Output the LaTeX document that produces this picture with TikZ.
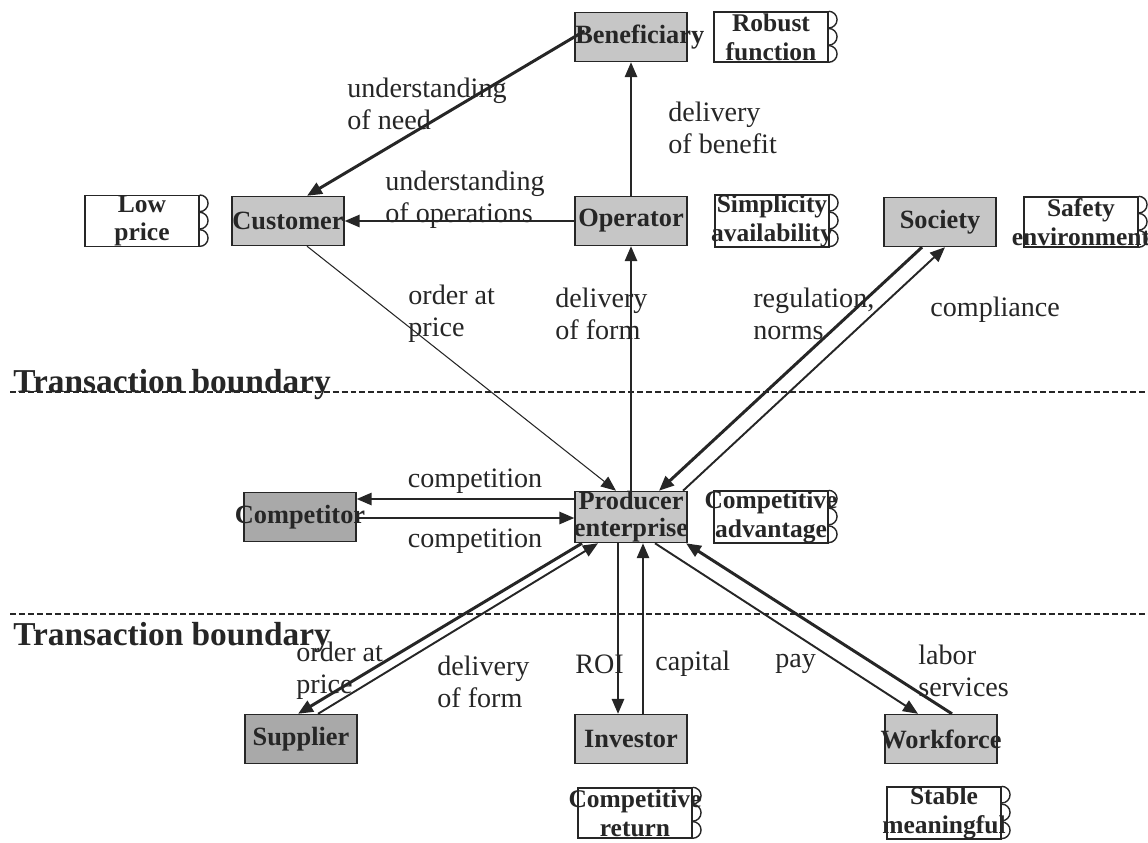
\documentclass[tikz,border=0pt]{standalone}
\usepackage{fontspec}
\setmainfont{Liberation Serif}
\usetikzlibrary{arrows.meta,calc}
\definecolor{ink}{HTML}{262626}
\definecolor{boxlight}{HTML}{C6C6C6}
\definecolor{boxdark}{HTML}{A9A9A9}
% a centred line of box text that may run past the box edges
\newcommand\boxline[1]{\makebox[0pt]{#1}}
% three half-round bumps on the right edge of a value box
\newcommand\valuebumps[1]{%
  \foreach \k in {0,1,2}{%
    \draw[draw=ink,line width=0.8pt] ($(#1.north east)!{\k/3}!(#1.south east)$)
      arc[start angle=90,end angle=-90,radius=0.167cm];}}
\begin{document}
\begin{tikzpicture}[x=0.02cm,y=-0.02cm,
  actor/.style={draw=ink,line width=0.8pt,fill=boxlight,minimum width=2.24cm,
    minimum height=0.98cm,inner sep=0pt,text=ink,align=center,
    font=\fontsize{15}{15.5}\selectfont\bfseries},
  rival/.style={actor,fill=boxdark},
  value/.style={draw=ink,line width=0.8pt,fill=white,minimum width=2.28cm,
    minimum height=1.0cm,inner sep=0pt,text=ink,align=center,
    font=\fontsize{14.5}{16.3}\selectfont\bfseries},
  flow/.style={draw=ink,line width=1.1pt,-{Triangle[length=8.5pt,width=7pt]}},
  heavy/.style={flow,line width=1.7pt},
  light/.style={flow,line width=0.6pt},
  lbl/.style={anchor=west,align=left,text=ink,inner sep=0pt,
    font=\fontsize{16}{18}\selectfont},
  boundary/.style={draw=ink,line width=0.6pt,dash pattern=on 3.4pt off 1.7pt},
  bndtext/.style={anchor=base west,inner sep=0pt,text=ink,
    font=\fontsize{19}{22}\selectfont\bfseries}
]
\useasboundingbox (0,0) rectangle (1148,842);

% transaction boundaries
\coordinate (b1l) at (10,392);  \coordinate (b1r) at (1148,392);
\coordinate (b2l) at (10,614);  \coordinate (b2r) at (1148,614);
\draw[boundary] (b1l) -- (b1r);
\draw[boundary] (b2l) -- (b2r);
\node[bndtext] (t1) at (13,392) {Transaction boundary};
\node[bndtext] (t2) at (13,645) {Transaction boundary};

% stakeholders
\node[actor] (ben)  at (631,37)  {\boxline{\hspace{10pt}Beneficiary}};
\node[actor] (cust) at (288,221) {\boxline{Customer}};
\node[actor] (oper) at (631,221) {\boxline{Operator}};
\node[actor] (soc)  at (940,222) {\boxline{Society}};
\node[actor] (prod) at (631,517) {\boxline{Producer}\\\boxline{enterprise}};
\node[rival] (compet) at (300,517) {\boxline{Competitor}};
\node[rival] (supp) at (301,739) {\boxline{Supplier}};
\node[actor] (inv)  at (631,739) {\boxline{Investor}};
\node[actor] (work) at (941,739) {\boxline{Workforce}};

% values sought by each stakeholder
\node[value] (robust)  at (771,37)   {\boxline{Robust}\\\boxline{function}};
\node[value] (lowprice) at (142,221) {\boxline{Low}\\\boxline{price}};
\node[value] (simpl)   at (772,221)  {\boxline{Simplicity}\\\boxline{availability}};
\node[value] (safety)  at (1081,222) {\boxline{Safety}\\\boxline{environment}};
\node[value] (compadv) at (771,517)  {\boxline{Competitive}\\\boxline{advantage}};
\node[value] (compret) at (635,813)  {\boxline{Competitive}\\\boxline{return}};
\node[value] (stable)  at (944,813)  {\boxline{Stable}\\\boxline{meaningful}};
\valuebumps{robust}
\valuebumps{lowprice}
\valuebumps{simpl}
\valuebumps{safety}
\valuebumps{compadv}
\valuebumps{compret}
\valuebumps{stable}

% flows
\draw[heavy] ($(ben.west)+(10,-6)$) -- ($(cust.north)+(19,0)$);
\draw[flow] (oper.north) -- (ben.south);
\draw[flow] (oper.west) -- (cust.east);
\draw[light] ($(cust.south)+(19,0)$) -- ($(prod.north)+(-15,0)$);
\draw[flow] (prod.north) -- (oper.south);
\draw[heavy] ($(soc.south)+(-18,0)$) -- ($(prod.north)+(28,0)$);
\draw[flow] ($(prod.north)+(52,0)$) -- ($(soc.south)+(5,0)$);
\draw[flow] ($(prod.west)+(0,-18)$) -- ($(compet.east)+(0,-18)$);
\draw[flow] ($(compet.east)+(0,1)$) -- ($(prod.west)+(0,1)$);
\draw[heavy] ($(prod.south)+(-49,0)$) -- ($(supp.north)+(-3,0)$);
\draw[flow] ($(supp.north)+(17,0)$) -- ($(prod.south)+(-33,0)$);
\draw[flow] ($(prod.south)+(-13,0)$) -- ($(inv.north)+(-13,0)$);
\draw[flow] ($(inv.north)+(12,0)$) -- ($(prod.south)+(12,0)$);
\draw[flow] ($(prod.south)+(24,0)$) -- ($(work.north)+(-23,0)$);
\draw[heavy] ($(work.north)+(11,0)$) -- ($(prod.south)+(55,0)$);

% flow labels
\node[lbl] (lneed)    at (347,104) {understanding\\of need};
\node[lbl] (lbenefit) at (668,128) {delivery\\of benefit};
\node[lbl] (lops)     at (385,200) {understanding\\of operations};
\node[lbl] (lorder)   at (408,314) {order at\\price};
\node[lbl] (lform)    at (555,314) {delivery\\of form};
\node[lbl] (lreg)     at (753,314) {regulation,\\norms};
\node[lbl] (lcomp)    at (930,310) {compliance};
\node[lbl,anchor=center] (lc1) at (475,481) {competition};
\node[lbl,anchor=center] (lc2) at (475,541) {competition};
\node[lbl] (lsorder)  at (296,671) {order at\\price};
\node[lbl] (lsform)   at (437,682) {delivery\\of form};
\node[lbl] (lroi)     at (575,664) {ROI};
\node[lbl] (lcap)     at (655,664) {capital};
\node[lbl] (lpay)     at (775,664) {pay};
\node[lbl] (llabor)   at (918,671) {labor\\services};
\end{tikzpicture}
\end{document}
